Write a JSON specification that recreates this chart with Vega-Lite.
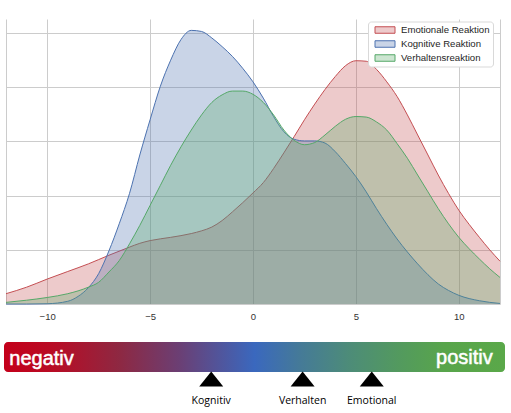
{
  "$schema": "https://vega.github.io/schema/vega-lite/v6.json",
  "padding": {"left": 4, "top": 19, "right": 0, "bottom": 0},
  "background": "white",
  "spacing": 21,
  "config": {"view": {"stroke": null}, "font": "Liberation Sans"},
  "resolve": {"scale": {"x": "independent", "y": "independent"}},
  "datasets": {
    "kde": [
      {"reaction": "Emotionale Reaktion", "x": -12, "density": 0.19},
      {"reaction": "Emotionale Reaktion", "x": -11, "density": 0.31},
      {"reaction": "Emotionale Reaktion", "x": -10, "density": 0.46},
      {"reaction": "Emotionale Reaktion", "x": -9, "density": 0.6},
      {"reaction": "Emotionale Reaktion", "x": -8, "density": 0.74},
      {"reaction": "Emotionale Reaktion", "x": -7, "density": 0.9},
      {"reaction": "Emotionale Reaktion", "x": -6, "density": 1.05},
      {"reaction": "Emotionale Reaktion", "x": -5.5, "density": 1.12},
      {"reaction": "Emotionale Reaktion", "x": -5, "density": 1.17},
      {"reaction": "Emotionale Reaktion", "x": -4, "density": 1.23},
      {"reaction": "Emotionale Reaktion", "x": -3, "density": 1.3},
      {"reaction": "Emotionale Reaktion", "x": -2.5, "density": 1.35},
      {"reaction": "Emotionale Reaktion", "x": -2, "density": 1.42},
      {"reaction": "Emotionale Reaktion", "x": -1.5, "density": 1.54},
      {"reaction": "Emotionale Reaktion", "x": -1, "density": 1.7},
      {"reaction": "Emotionale Reaktion", "x": -0.5, "density": 1.87},
      {"reaction": "Emotionale Reaktion", "x": 0, "density": 2.05},
      {"reaction": "Emotionale Reaktion", "x": 0.5, "density": 2.24},
      {"reaction": "Emotionale Reaktion", "x": 1, "density": 2.5},
      {"reaction": "Emotionale Reaktion", "x": 1.5, "density": 2.79},
      {"reaction": "Emotionale Reaktion", "x": 2, "density": 3.09},
      {"reaction": "Emotionale Reaktion", "x": 2.5, "density": 3.4},
      {"reaction": "Emotionale Reaktion", "x": 3, "density": 3.69},
      {"reaction": "Emotionale Reaktion", "x": 3.5, "density": 3.96},
      {"reaction": "Emotionale Reaktion", "x": 4, "density": 4.2},
      {"reaction": "Emotionale Reaktion", "x": 4.5, "density": 4.4},
      {"reaction": "Emotionale Reaktion", "x": 5, "density": 4.49},
      {"reaction": "Emotionale Reaktion", "x": 5.5, "density": 4.48},
      {"reaction": "Emotionale Reaktion", "x": 6, "density": 4.33},
      {"reaction": "Emotionale Reaktion", "x": 6.5, "density": 4.1},
      {"reaction": "Emotionale Reaktion", "x": 7, "density": 3.83},
      {"reaction": "Emotionale Reaktion", "x": 7.5, "density": 3.49},
      {"reaction": "Emotionale Reaktion", "x": 8, "density": 3.12},
      {"reaction": "Emotionale Reaktion", "x": 8.5, "density": 2.75},
      {"reaction": "Emotionale Reaktion", "x": 9, "density": 2.38},
      {"reaction": "Emotionale Reaktion", "x": 9.5, "density": 2.04},
      {"reaction": "Emotionale Reaktion", "x": 10, "density": 1.73},
      {"reaction": "Emotionale Reaktion", "x": 10.5, "density": 1.47},
      {"reaction": "Emotionale Reaktion", "x": 11, "density": 1.23},
      {"reaction": "Emotionale Reaktion", "x": 11.5, "density": 1.0},
      {"reaction": "Emotionale Reaktion", "x": 12, "density": 0.79},

      {"reaction": "Kognitive Reaktion", "x": -12, "density": 0},
      {"reaction": "Kognitive Reaktion", "x": -11, "density": 0},
      {"reaction": "Kognitive Reaktion", "x": -10, "density": 0.005},
      {"reaction": "Kognitive Reaktion", "x": -9, "density": 0.05},
      {"reaction": "Kognitive Reaktion", "x": -8.5, "density": 0.14},
      {"reaction": "Kognitive Reaktion", "x": -8, "density": 0.3},
      {"reaction": "Kognitive Reaktion", "x": -7.5, "density": 0.56},
      {"reaction": "Kognitive Reaktion", "x": -7, "density": 0.98},
      {"reaction": "Kognitive Reaktion", "x": -6.5, "density": 1.48},
      {"reaction": "Kognitive Reaktion", "x": -6, "density": 2.04},
      {"reaction": "Kognitive Reaktion", "x": -5.5, "density": 2.75},
      {"reaction": "Kognitive Reaktion", "x": -5, "density": 3.4},
      {"reaction": "Kognitive Reaktion", "x": -4.5, "density": 4.02},
      {"reaction": "Kognitive Reaktion", "x": -4, "density": 4.5},
      {"reaction": "Kognitive Reaktion", "x": -3.5, "density": 4.88},
      {"reaction": "Kognitive Reaktion", "x": -3, "density": 5.05},
      {"reaction": "Kognitive Reaktion", "x": -2.5, "density": 5.03},
      {"reaction": "Kognitive Reaktion", "x": -2, "density": 4.91},
      {"reaction": "Kognitive Reaktion", "x": -1.5, "density": 4.75},
      {"reaction": "Kognitive Reaktion", "x": -1, "density": 4.57},
      {"reaction": "Kognitive Reaktion", "x": -0.5, "density": 4.35},
      {"reaction": "Kognitive Reaktion", "x": 0, "density": 4.1},
      {"reaction": "Kognitive Reaktion", "x": 0.5, "density": 3.8},
      {"reaction": "Kognitive Reaktion", "x": 1, "density": 3.46},
      {"reaction": "Kognitive Reaktion", "x": 1.5, "density": 3.18},
      {"reaction": "Kognitive Reaktion", "x": 2, "density": 3.04},
      {"reaction": "Kognitive Reaktion", "x": 2.5, "density": 3.01},
      {"reaction": "Kognitive Reaktion", "x": 3, "density": 3.01},
      {"reaction": "Kognitive Reaktion", "x": 3.5, "density": 2.97},
      {"reaction": "Kognitive Reaktion", "x": 4, "density": 2.81},
      {"reaction": "Kognitive Reaktion", "x": 4.5, "density": 2.59},
      {"reaction": "Kognitive Reaktion", "x": 5, "density": 2.35},
      {"reaction": "Kognitive Reaktion", "x": 5.5, "density": 2.07},
      {"reaction": "Kognitive Reaktion", "x": 6, "density": 1.76},
      {"reaction": "Kognitive Reaktion", "x": 6.5, "density": 1.47},
      {"reaction": "Kognitive Reaktion", "x": 7, "density": 1.2},
      {"reaction": "Kognitive Reaktion", "x": 7.5, "density": 0.96},
      {"reaction": "Kognitive Reaktion", "x": 8, "density": 0.74},
      {"reaction": "Kognitive Reaktion", "x": 8.5, "density": 0.54},
      {"reaction": "Kognitive Reaktion", "x": 9, "density": 0.37},
      {"reaction": "Kognitive Reaktion", "x": 9.5, "density": 0.25},
      {"reaction": "Kognitive Reaktion", "x": 10, "density": 0.16},
      {"reaction": "Kognitive Reaktion", "x": 11, "density": 0.06},
      {"reaction": "Kognitive Reaktion", "x": 12, "density": 0.01},

      {"reaction": "Verhaltensreaktion", "x": -12, "density": 0.03},
      {"reaction": "Verhaltensreaktion", "x": -11, "density": 0.07},
      {"reaction": "Verhaltensreaktion", "x": -10, "density": 0.12},
      {"reaction": "Verhaltensreaktion", "x": -9, "density": 0.19},
      {"reaction": "Verhaltensreaktion", "x": -8, "density": 0.31},
      {"reaction": "Verhaltensreaktion", "x": -7.5, "density": 0.4},
      {"reaction": "Verhaltensreaktion", "x": -7, "density": 0.59},
      {"reaction": "Verhaltensreaktion", "x": -6.5, "density": 0.8},
      {"reaction": "Verhaltensreaktion", "x": -6, "density": 1.11},
      {"reaction": "Verhaltensreaktion", "x": -5.5, "density": 1.45},
      {"reaction": "Verhaltensreaktion", "x": -5, "density": 1.82},
      {"reaction": "Verhaltensreaktion", "x": -4.5, "density": 2.19},
      {"reaction": "Verhaltensreaktion", "x": -4, "density": 2.56},
      {"reaction": "Verhaltensreaktion", "x": -3.5, "density": 2.9},
      {"reaction": "Verhaltensreaktion", "x": -3, "density": 3.21},
      {"reaction": "Verhaltensreaktion", "x": -2.5, "density": 3.49},
      {"reaction": "Verhaltensreaktion", "x": -2, "density": 3.72},
      {"reaction": "Verhaltensreaktion", "x": -1.5, "density": 3.86},
      {"reaction": "Verhaltensreaktion", "x": -1, "density": 3.93},
      {"reaction": "Verhaltensreaktion", "x": -0.5, "density": 3.93},
      {"reaction": "Verhaltensreaktion", "x": 0, "density": 3.87},
      {"reaction": "Verhaltensreaktion", "x": 0.5, "density": 3.72},
      {"reaction": "Verhaltensreaktion", "x": 1, "density": 3.49},
      {"reaction": "Verhaltensreaktion", "x": 1.5, "density": 3.21},
      {"reaction": "Verhaltensreaktion", "x": 2, "density": 3.02},
      {"reaction": "Verhaltensreaktion", "x": 2.5, "density": 2.94},
      {"reaction": "Verhaltensreaktion", "x": 3, "density": 2.98},
      {"reaction": "Verhaltensreaktion", "x": 3.5, "density": 3.12},
      {"reaction": "Verhaltensreaktion", "x": 4, "density": 3.28},
      {"reaction": "Verhaltensreaktion", "x": 4.5, "density": 3.41},
      {"reaction": "Verhaltensreaktion", "x": 5, "density": 3.46},
      {"reaction": "Verhaltensreaktion", "x": 5.5, "density": 3.45},
      {"reaction": "Verhaltensreaktion", "x": 6, "density": 3.36},
      {"reaction": "Verhaltensreaktion", "x": 6.5, "density": 3.21},
      {"reaction": "Verhaltensreaktion", "x": 7, "density": 2.96},
      {"reaction": "Verhaltensreaktion", "x": 7.5, "density": 2.69},
      {"reaction": "Verhaltensreaktion", "x": 8, "density": 2.38},
      {"reaction": "Verhaltensreaktion", "x": 8.5, "density": 2.07},
      {"reaction": "Verhaltensreaktion", "x": 9, "density": 1.76},
      {"reaction": "Verhaltensreaktion", "x": 9.5, "density": 1.48},
      {"reaction": "Verhaltensreaktion", "x": 10, "density": 1.23},
      {"reaction": "Verhaltensreaktion", "x": 10.5, "density": 1.02},
      {"reaction": "Verhaltensreaktion", "x": 11, "density": 0.83},
      {"reaction": "Verhaltensreaktion", "x": 11.5, "density": 0.65},
      {"reaction": "Verhaltensreaktion", "x": 12, "density": 0.49}
    ],
    "markers": [
      {"label": "Kognitiv", "pos": -2.03},
      {"label": "Verhalten", "pos": 2.41},
      {"label": "Emotional", "pos": 5.77}
    ]
  },
  "vconcat": [
    {
      "width": 494,
      "height": 285,
      "data": {"name": "kde"},
      "encoding": {
        "x": {
          "field": "x", "type": "quantitative",
          "scale": {"domain": [-12, 12], "nice": false, "zero": false},
          "axis": {
            "title": null, "values": [-12, -10, -5, 0, 5, 10, 12],
            "labelExpr": "abs(datum.value) == 12 ? '' : datum.label",
            "ticks": false, "tickSize": 0, "domain": false, "labelPadding": 7,
            "labelFont": "Liberation Sans", "labelFontSize": 9.5, "labelColor": "#333333",
            "labelFlush": false, "labelOverlap": false,
            "grid": true, "gridColor": "#cccccc", "gridWidth": 1
          }
        },
        "y": {
          "field": "density", "type": "quantitative",
          "scale": {"domain": [0, 5.26], "nice": false},
          "axis": {
            "title": null, "values": [0, 1, 2, 3, 4, 5], "labels": false,
            "ticks": false, "domain": false,
            "grid": true, "gridColor": "#cccccc", "gridWidth": 1
          }
        },
        "color": {
          "field": "reaction", "type": "nominal",
          "scale": {
            "domain": ["Emotionale Reaktion", "Kognitive Reaktion", "Verhaltensreaktion"],
            "range": ["#C44E52", "#4C72B0", "#55A868"]
          },
          "legend": {
            "title": null, "orient": "none", "legendX": 362, "legendY": 2.5,
            "labelFont": "Liberation Sans", "labelFontSize": 9.6, "labelColor": "#262626",
            "symbolType": "M-2,-0.65L2,-0.65L2,0.65L-2,0.65Z", "symbolSize": 100,
            "symbolOffset": 8.5, "labelOffset": 10.5, "padding": 3, "rowPadding": 3,
            "strokeColor": "#d9d9d9", "fillColor": "#ffffff", "cornerRadius": 3,
            "symbolStrokeWidth": 1,
            "encode": {
              "symbols": {
                "update": {
                  "fill": {"signal": "scale('color', datum.value)"},
                  "stroke": {"signal": "scale('color', datum.value)"},
                  "fillOpacity": {"value": 0.3},
                  "strokeOpacity": {"value": 1},
                  "opacity": {"value": 1},
                  "strokeWidth": {"value": 1}
                }
              }
            }
          }
        }
      },
      "layer": [
        {
          "transform": [{"filter": "datum.reaction === 'Emotionale Reaktion'"}],
          "mark": {"type": "area", "interpolate": "monotone", "fillOpacity": 0.3, "line": {"strokeWidth": 1}}
        },
        {
          "transform": [{"filter": "datum.reaction === 'Kognitive Reaktion'"}],
          "mark": {"type": "area", "interpolate": "monotone", "fillOpacity": 0.3, "line": {"strokeWidth": 1}}
        },
        {
          "transform": [{"filter": "datum.reaction === 'Verhaltensreaktion'"}],
          "mark": {"type": "area", "interpolate": "monotone", "fillOpacity": 0.3, "line": {"strokeWidth": 1}}
        }
      ]
    },
    {
      "width": 494,
      "height": 65,
      "layer": [
        {
          "data": {"values": [{"bar": "negativ-positiv"}]},
          "mark": {
            "type": "rect", "cornerRadius": 4,
            "color": {
              "gradient": "linear", "x1": 0, "y1": 0, "x2": 1, "y2": 0,
              "stops": [
                {"offset": 0, "color": "#c4001a"},
                {"offset": 0.1, "color": "#b80c25"},
                {"offset": 0.23, "color": "#8e2842"},
                {"offset": 0.35, "color": "#6b3f74"},
                {"offset": 0.5, "color": "#3a68be"},
                {"offset": 0.59, "color": "#457a98"},
                {"offset": 0.69, "color": "#4d8c78"},
                {"offset": 0.79, "color": "#539a5e"},
                {"offset": 0.88, "color": "#58a54b"},
                {"offset": 1, "color": "#5aa849"}
              ]
            }
          },
          "encoding": {
            "x": {"datum": -12.097, "type": "quantitative", "scale": {"domain": [-12, 12], "nice": false, "zero": false}, "axis": null},
            "x2": {"datum": 12.243},
            "y": {"datum": 0, "type": "quantitative", "scale": {"domain": [0, 65], "nice": false, "reverse": true}, "axis": null},
            "y2": {"datum": 30}
          }
        },
        {
          "data": {"values": [{"label": "negativ"}]},
          "mark": {"type": "text", "align": "left", "baseline": "alphabetic", "font": "Liberation Sans", "fontSize": 20, "color": "#ffffff", "stroke": "#ffffff", "strokeWidth": 0.5},
          "encoding": {
            "x": {"datum": -11.84, "type": "quantitative"},
            "y": {"datum": 22.9, "type": "quantitative"},
            "text": {"field": "label"}
          }
        },
        {
          "data": {"values": [{"label": "positiv"}]},
          "mark": {"type": "text", "align": "right", "baseline": "alphabetic", "font": "Liberation Sans", "fontSize": 20, "color": "#ffffff", "stroke": "#ffffff", "strokeWidth": 0.5},
          "encoding": {
            "x": {"datum": 11.646, "type": "quantitative"},
            "y": {"datum": 22.2, "type": "quantitative"},
            "text": {"field": "label"}
          }
        },
        {
          "data": {"name": "markers"},
          "mark": {"type": "point", "shape": "M0,-1L1.6,1L-1.6,1Z", "size": 225, "filled": true, "color": "#000000", "opacity": 1, "strokeWidth": 0},
          "encoding": {
            "x": {"field": "pos", "type": "quantitative"},
            "y": {"datum": 37.1, "type": "quantitative"}
          }
        },
        {
          "data": {"name": "markers"},
          "mark": {"type": "text", "align": "center", "baseline": "alphabetic", "font": "Open Sans", "fontSize": 10.5, "color": "#000000"},
          "encoding": {
            "x": {"field": "pos", "type": "quantitative"},
            "y": {"datum": 62.2, "type": "quantitative"},
            "text": {"field": "label"}
          }
        }
      ]
    }
  ]
}
